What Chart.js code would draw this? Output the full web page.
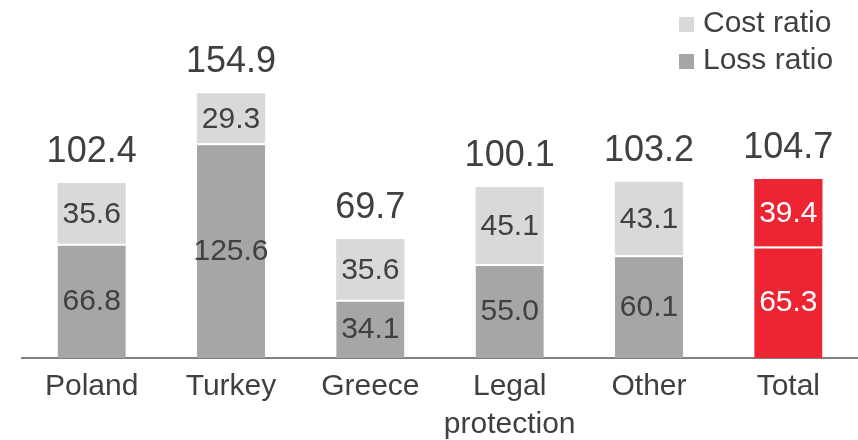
<!DOCTYPE html>
<html>
<head>
<meta charset="utf-8">
<script src="https://cdn.jsdelivr.net/npm/chart.js@4"></script>
<style>
  html, body { margin: 0; padding: 0; background: #fff; }
  #wrap { width: 858px; height: 440px; position: relative; }
</style>
</head>
<body>
<div id="wrap"><canvas id="ratioChart"></canvas></div>
<script>
// Combined ratio breakdown by segment
const categories = ['Poland', 'Turkey', 'Greece', ['Legal', 'protection'], 'Other', 'Total'];
const lossRatio = [66.8, 125.6, 34.1, 55.0, 60.1, 65.3];
const costRatio = [35.6, 29.3, 35.6, 45.1, 43.1, 39.4];
const combinedRatio = [102.4, 154.9, 69.7, 100.1, 103.2, 104.7];

const FONT = 'Liberation Sans, Arial, sans-serif';
const TEXT = '#404040';
const RED = '#ed2533';

function segColors(base) {
    return categories.map((c, i) => i === categories.length - 1 ? RED : base);
}

// Value labels inside segments and combined totals above each bar
const valueLabels = {
    id: 'valueLabels',
    afterDatasetsDraw(chart) {
        const ctx = chart.ctx;
        ctx.save();
        ctx.textAlign = 'center';
        ctx.textBaseline = 'middle';
        chart.data.datasets.forEach((ds, di) => {
            const meta = chart.getDatasetMeta(di);
            meta.data.forEach((bar, i) => {
                const mid = (bar.y + bar.base) / 2;
                ctx.font = '30px ' + FONT;
                ctx.fillStyle = i === categories.length - 1 ? '#ffffff' : TEXT;
                ctx.fillText(ds.data[i].toFixed(1), bar.x, mid + 1);
            });
        });
        const top = chart.getDatasetMeta(chart.data.datasets.length - 1);
        top.data.forEach((bar, i) => {
            ctx.font = '36px ' + FONT;
            ctx.fillStyle = TEXT;
            ctx.fillText(combinedRatio[i].toFixed(1), bar.x, bar.y - 31);
        });
        ctx.restore();
    }
};

// Stacked legend in the upper right corner, top series first
const cornerLegend = {
    id: 'cornerLegend',
    afterDraw(chart) {
        const ctx = chart.ctx;
        const items = chart.data.datasets.slice().reverse();
        ctx.save();
        ctx.font = '30px ' + FONT;
        ctx.textBaseline = 'middle';
        ctx.textAlign = 'left';
        items.forEach((ds, k) => {
            const y = 24 + k * 37;
            ctx.fillStyle = ds.legendColor;
            ctx.fillRect(679, y - 7, 15, 15);
            ctx.fillStyle = TEXT;
            ctx.fillText(ds.label, 703, y);
        });
        ctx.restore();
    }
};

new Chart(document.getElementById('ratioChart'), {
    type: 'bar',
    data: {
        labels: categories,
        datasets: [
            {
                label: 'Loss ratio',
                data: lossRatio,
                backgroundColor: segColors('#a6a6a6'),
                legendColor: '#a6a6a6',
                borderColor: '#ffffff',
                borderWidth: { top: 2, left: 0, right: 0, bottom: 0 },
                borderSkipped: false
            },
            {
                label: 'Cost ratio',
                data: costRatio,
                backgroundColor: segColors('#d9d9d9'),
                legendColor: '#d9d9d9',
                borderWidth: 0
            }
        ]
    },
    options: {
        responsive: true,
        maintainAspectRatio: false,
        animation: false,
        layout: { padding: { left: 22, right: 0, top: 0, bottom: 0 } },
        datasets: {
            bar: { categoryPercentage: 1, barPercentage: 0.49 }
        },
        scales: {
            x: {
                stacked: true,
                grid: { display: false, drawTicks: false },
                border: { display: true, color: '#808080', width: 2 },
                ticks: {
                    color: TEXT,
                    padding: 10,
                    maxRotation: 0,
                    font: { family: FONT, size: 30, lineHeight: 1.27 }
                },
                afterFit(scale) {
                    scale.height = 82;
                }
            },
            y: {
                stacked: true,
                display: false,
                min: 0,
                max: 209.5
            }
        },
        plugins: {
            legend: { display: false },
            tooltip: { enabled: false }
        }
    },
    plugins: [valueLabels, cornerLegend]
});
</script>
</body>
</html>
